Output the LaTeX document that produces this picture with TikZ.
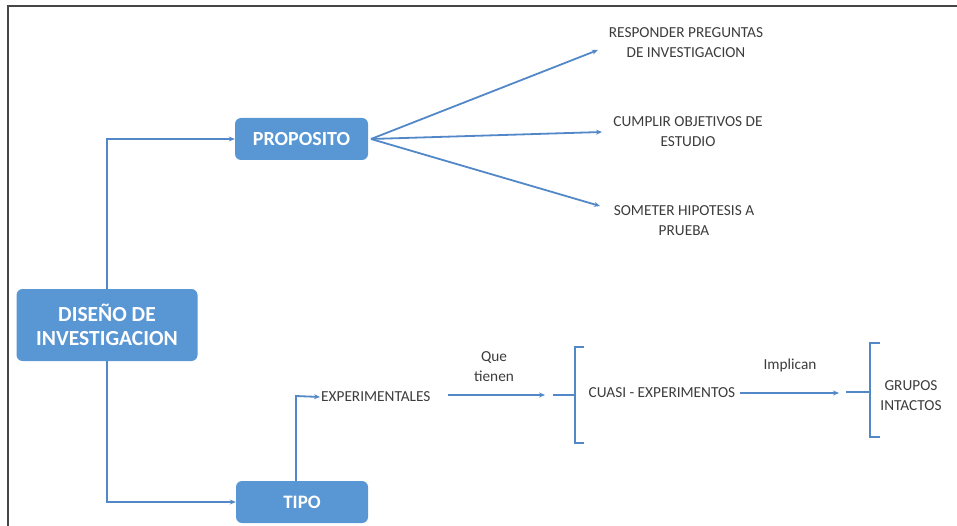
\documentclass[tikz,border=0pt]{standalone}
\usepackage{fontspec}
\setmainfont{Carlito}
\usetikzlibrary{arrows.meta}
\definecolor{boxblue}{RGB}{88,150,212}
\definecolor{lineblue}{RGB}{82,136,200}
\definecolor{txtgray}{RGB}{60,60,60}
\definecolor{frame}{RGB}{70,70,70}
\begin{document}
\begin{tikzpicture}[x=1pt,y=-1pt,
  bluebox/.style={draw=none,fill=boxblue,rounded corners=6pt,text=white,
    font=\fontsize{20}{24}\selectfont\bfseries,align=center,inner sep=0pt},
  label/.style={text=txtgray,font=\fontsize{15.3}{20}\selectfont,align=center,inner sep=1pt},
  conn/.style={draw=lineblue,line width=1.8pt},
  arr/.style={conn,-{Stealth[length=6pt,width=5pt]}},
  brace/.style={draw=lineblue,line width=1.8pt}]
\useasboundingbox (0,0) rectangle (957,526);
% page frame: top and left edges
\draw[frame,line width=2pt] (7.5,526) -- (7.5,6.5) -- (957,6.5);

% main boxes
\node[bluebox,minimum width=181pt,minimum height=72pt,font=\fontsize{21.5}{24}\selectfont\bfseries] (dis) at (107,325) {DISEÑO DE\\INVESTIGACION};
\node[bluebox,minimum width=133pt,minimum height=42pt] (prop) at (301.5,139) {PROPOSITO};
\node[bluebox,minimum width=132pt,minimum height=42pt,font=\fontsize{19}{23}\selectfont\bfseries] (tipo) at (302,502) {TIPO};

% branches from the root
\draw[arr] (dis.north) |- (prop.west);
\draw[arr] (dis.south) |- (tipo.west);

% purposes
\node[label] (r1) at (686,43) {RESPONDER PREGUNTAS\\DE INVESTIGACION};
\node[label] (r2) at (688,132) {CUMPLIR OBJETIVOS DE\\ESTUDIO};
\node[label] (r3) at (684,221) {SOMETER HIPOTESIS A\\PRUEBA};
\coordinate (p0) at (371,139);
\coordinate (t1) at (598,50);
\coordinate (t2) at (602,132);
\coordinate (t3) at (600,206);
\draw[arr] (p0) -- (t1);
\draw[arr] (p0) -- (t2);
\draw[arr] (p0) -- (t3);

% types
\node[label,anchor=west] (exp) at (320,397) {EXPERIMENTALES};
\coordinate (tup) at (296,396);
\draw[arr] (tipo.north -| tup) -- (tup) -- (exp.west);

\node[label] (que) at (494,367) {Que\\tienen};
\coordinate (e1) at (448,395);
\coordinate (e2) at (545,395);
\draw[arr] (e1) -- (e2);

% first bracket
\coordinate (b1) at (575,395);
\draw[brace] (584,347) -- (575,347) -- (575,443) -- (584,443);
\draw[conn] (553,395) -- (b1);
\node[label] (cuasi) at (662,393) {CUASI - EXPERIMENTOS};

\node[label] (impl) at (790,365) {Implican};
\coordinate (c1) at (740,393);
\coordinate (c2) at (839,393);
\draw[arr] (c1) -- (c2);

% second bracket
\coordinate (b2) at (870,392);
\draw[brace] (880,343) -- (870,343) -- (870,437) -- (880,437);
\draw[conn] (846,392) -- (b2);
\node[label] (grp) at (911,396) {GRUPOS\\INTACTOS};
\end{tikzpicture}
\end{document}
